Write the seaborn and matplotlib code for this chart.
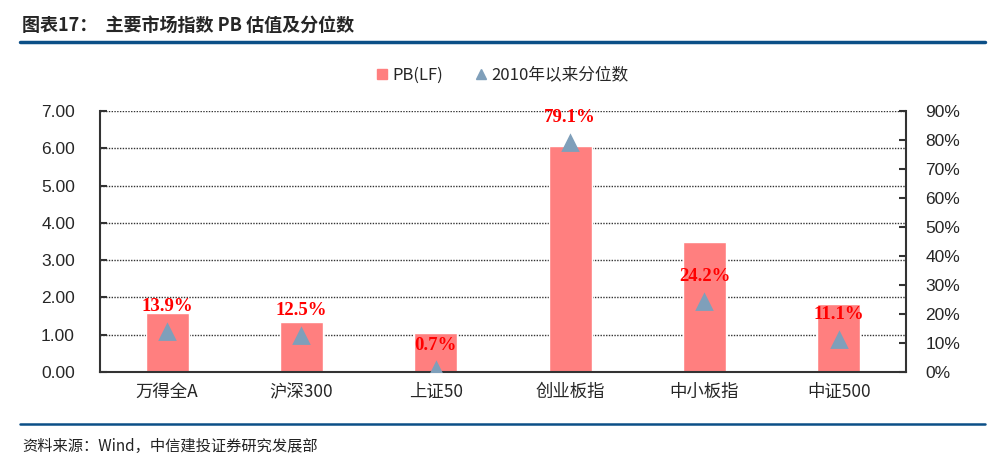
import numpy as np
import pandas as pd
import matplotlib
matplotlib.use('Agg')
import matplotlib.pyplot as plt
import seaborn as sns
from matplotlib.lines import Line2D

# data
categories = ['万得全A', '沪深300', '上证50', '创业板指', '中小板指', '中证500']
pb_lf = [1.58, 1.34, 1.05, 6.06, 3.49, 1.82]
pct_since_2010 = [13.9, 12.5, 0.7, 79.1, 24.2, 11.1]
left_ticks = [0, 1, 2, 3, 4, 5, 6, 7]
right_ticks = [0, 10, 20, 30, 40, 50, 60, 70, 80, 90]

bar_color = '#FF7F7F'
tri_color = '#7F9FBA'
line_blue = '#0B4F87'

sns.set_style('white')
plt.rcParams['font.family'] = ['Noto Sans CJK SC', 'DejaVu Sans']

df = pd.DataFrame({'cat': categories, 'pb': pb_lf, 'pct': pct_since_2010})

fig = plt.figure(figsize=(10.08, 4.68), dpi=100)
ax = fig.add_axes([0.0992, 0.205, 0.7996, 0.558])

sns.barplot(data=df, x='cat', y='pb', color=bar_color, saturation=1, width=0.32, ax=ax, zorder=2)
ax.set_ylim(0, 7)
ax.set_yticks(left_ticks)
ax.set_yticklabels(['{:.2f}'.format(v) for v in left_ticks], family='Liberation Sans', fontsize=12.5)
ax.yaxis.grid(True, linestyle=(0, (1, 1)), color='#333333', linewidth=1.0, zorder=0)
ax.set_axisbelow(True)
ax.set_xlabel('')
ax.set_ylabel('')
ax.tick_params(axis='y', direction='in', length=5, width=1.5, color='#333333', pad=18)
ax.tick_params(axis='x', length=0, pad=8, labelsize=12.5)
ax.set_xlim(-0.5, len(categories) - 0.5)
for s in ['left', 'bottom']:
    ax.spines[s].set_color('#333333')
    ax.spines[s].set_linewidth(1.5)
ax.spines['top'].set_visible(False)
ax.spines['right'].set_visible(False)

ax2 = ax.twinx()
sns.pointplot(data=df, x='cat', y='pct', color=tri_color, markers='^', linestyles='none',
              markersize=9.5, ax=ax2, zorder=3)
ax2.set_ylim(0, 90)
ax2.set_yticks(right_ticks)
ax2.set_yticklabels(['{}%'.format(v) for v in right_ticks], family='Liberation Sans', fontsize=12.5)
ax2.set_ylabel('')
ax2.tick_params(axis='y', direction='in', length=5, width=1.5, color='#333333', pad=14)
for s in ['top', 'left', 'bottom']:
    ax2.spines[s].set_visible(False)
ax2.spines['right'].set_color('#333333')
ax2.spines['right'].set_linewidth(1.5)
ax2.set_xlim(-0.5, len(categories) - 0.5)

for i, v in enumerate(pct_since_2010):
    ax2.annotate('{:.1f}%'.format(v), (i, v), xytext=(0, 18), textcoords='offset points',
                 ha='center', va='center', color='red', fontweight='bold',
                 family='Liberation Serif', fontsize=13.5, zorder=4)

# legend
handles = [Line2D([], [], marker='s', linestyle='none', color=bar_color, markersize=7),
           Line2D([], [], marker='^', linestyle='none', color=tri_color, markersize=7)]
fig.legend(handles, ['PB(LF)', '2010年以来分位数'], loc='center', bbox_to_anchor=(0.497, 0.84),
           ncol=2, frameon=False, fontsize=12, handletextpad=0.1, columnspacing=1.8, handlelength=1)

# header / footer
fig.text(22 / 1008, 1 - 25 / 468, '图表17：  主要市场指数 PB 估值及分位数', fontsize=13,
         fontweight='bold', va='center', ha='left')
fig.add_artist(Line2D([20 / 1008, 985 / 1008], [1 - 42 / 468] * 2, color=line_blue, linewidth=2.5))
fig.add_artist(Line2D([20 / 1008, 985 / 1008], [1 - 424 / 468] * 2, color=line_blue, linewidth=1.8))
fig.text(22 / 1008, 1 - 446 / 468, '资料来源：Wind，中信建投证券研究发展部', fontsize=11,
         style='italic', va='center', ha='left', color='#222222')

fig.savefig('out.png', dpi=100)
